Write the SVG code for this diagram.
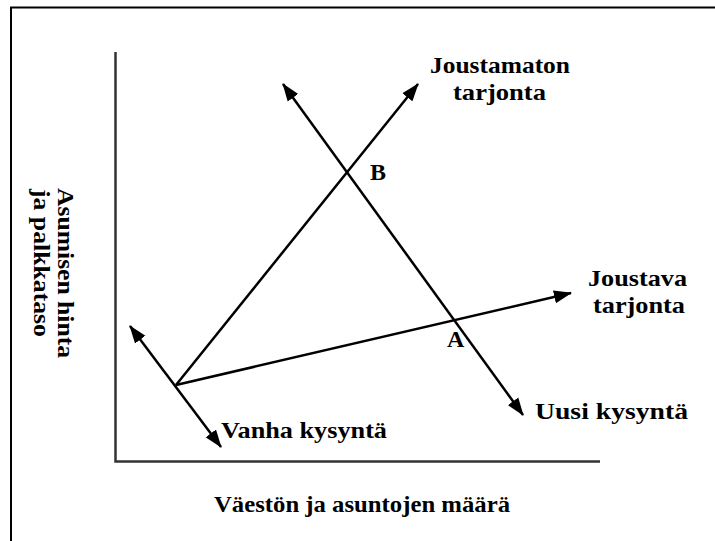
<svg xmlns="http://www.w3.org/2000/svg" width="715" height="541" viewBox="0 0 715 541">
<style>
.lbl{font-family:"Liberation Serif","Times New Roman",serif;font-weight:bold;font-size:24px;fill:#000}
.frame{stroke:#000;stroke-width:2;fill:none}
.axis{stroke:#333;stroke-width:2.5;fill:none}
.ln{stroke:#000;stroke-width:2.5;fill:none}
</style>
<defs>
<marker id="ah" markerUnits="userSpaceOnUse" markerWidth="18" markerHeight="14" refX="17" refY="6.5" orient="auto-start-reverse" viewBox="0 0 18 13">
<path d="M0,0 L18,6.5 L0,13 Z" fill="#000"/>
</marker>
</defs>
<rect width="715" height="541" fill="#fff"/>
<g id="frame">
<path class="frame" d="M11,541 V7.5 H715"/>
</g>
<g id="axes">
<path class="axis" d="M115.5,52 V461.5 H600"/>
</g>
<g id="connectors">
<line id="joustamaton-line" class="ln" x1="176" y1="385" x2="418" y2="84" marker-end="url(#ah)"/>
<line id="uusi-line" class="ln" x1="283" y1="84" x2="523" y2="415" marker-start="url(#ah)" marker-end="url(#ah)"/>
<line id="joustava-line" class="ln" x1="176" y1="385" x2="571" y2="293" marker-end="url(#ah)"/>
<line id="vanha-line" class="ln" x1="130" y1="326" x2="221" y2="447" marker-start="url(#ah)" marker-end="url(#ah)"/>
</g>
<g id="joustamaton-tarjonta">
<text class="lbl" x="430" y="73" textLength="140" lengthAdjust="spacingAndGlyphs">Joustamaton</text>
<text class="lbl" x="453" y="100" textLength="93" lengthAdjust="spacingAndGlyphs">tarjonta</text>
</g>
<g id="point-b"><text class="lbl" x="370" y="180">B</text></g>
<g id="joustava-tarjonta">
<text class="lbl" x="588" y="286" textLength="99" lengthAdjust="spacingAndGlyphs">Joustava</text>
<text class="lbl" x="593" y="313" textLength="92" lengthAdjust="spacingAndGlyphs">tarjonta</text>
</g>
<g id="point-a"><text class="lbl" x="447" y="347">A</text></g>
<g id="uusi-kysynta"><text class="lbl" x="535" y="419" textLength="153" lengthAdjust="spacingAndGlyphs">Uusi kysyntä</text></g>
<g id="vanha-kysynta"><text class="lbl" x="221" y="438" textLength="166" lengthAdjust="spacingAndGlyphs">Vanha kysyntä</text></g>
<g id="x-axis-label"><text class="lbl" x="214" y="512" textLength="296" lengthAdjust="spacingAndGlyphs">Väestön ja asuntojen määrä</text></g>
<g id="y-axis-label">
<text class="lbl" transform="translate(58,188) rotate(90)" textLength="170" lengthAdjust="spacingAndGlyphs">Asumisen hinta</text>
<text class="lbl" transform="translate(34,189) rotate(90)" textLength="148" lengthAdjust="spacingAndGlyphs">ja palkkataso</text>
</g>
</svg>
